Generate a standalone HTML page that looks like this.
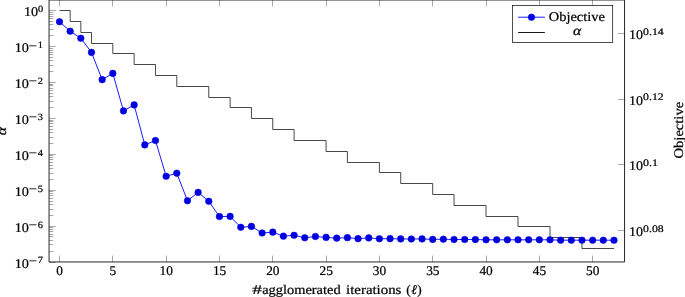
<!DOCTYPE html>
<html><head><meta charset="utf-8"><title>plot</title><style>html,body{margin:0;padding:0;background:#fff}svg{display:block}</style></head><body>
<svg width="685" height="297" viewBox="0 0 685 297" font-family='"Liberation Serif","DejaVu Serif",serif' font-size="13.33" fill="#000" text-rendering="geometricPrecision"><style>text{stroke:#000;stroke-width:0.22px}</style>
<rect width="685" height="297" fill="#fff"/>
<path d="M59.50 261.95v-6.4M59.50 0.0v6.5M112.50 261.95v-6.4M112.50 0.0v6.5M166.50 261.95v-6.4M166.50 0.0v6.5M219.50 261.95v-6.4M219.50 0.0v6.5M272.50 261.95v-6.4M272.50 0.0v6.5M326.50 261.95v-6.4M326.50 0.0v6.5M379.50 261.95v-6.4M379.50 0.0v6.5M432.50 261.95v-6.4M432.50 0.0v6.5M486.50 261.95v-6.4M486.50 0.0v6.5M539.50 261.95v-6.4M539.50 0.0v6.5M592.50 261.95v-6.4M592.50 0.0v6.5M49.05 10.50h6.7M49.05 35.50h4.3M49.05 29.50h4.3M49.05 24.50h4.3M49.05 21.50h4.3M49.05 18.50h4.3M49.05 16.50h4.3M49.05 14.50h4.3M49.05 12.50h4.3M49.05 46.50h6.7M49.05 71.50h4.3M49.05 65.50h4.3M49.05 60.50h4.3M49.05 57.50h4.3M49.05 54.50h4.3M49.05 52.50h4.3M49.05 50.50h4.3M49.05 48.50h4.3M49.05 82.50h6.7M49.05 107.50h4.3M49.05 101.50h4.3M49.05 96.50h4.3M49.05 93.50h4.3M49.05 90.50h4.3M49.05 88.50h4.3M49.05 85.50h4.3M49.05 84.50h4.3M49.05 118.50h6.7M49.05 143.50h4.3M49.05 137.50h4.3M49.05 132.50h4.3M49.05 129.50h4.3M49.05 126.50h4.3M49.05 123.50h4.3M49.05 121.50h4.3M49.05 120.50h4.3M49.05 154.50h6.7M49.05 179.50h4.3M49.05 173.50h4.3M49.05 168.50h4.3M49.05 165.50h4.3M49.05 162.50h4.3M49.05 159.50h4.3M49.05 157.50h4.3M49.05 155.50h4.3M49.05 190.50h6.7M49.05 215.50h4.3M49.05 209.50h4.3M49.05 204.50h4.3M49.05 201.50h4.3M49.05 198.50h4.3M49.05 195.50h4.3M49.05 193.50h4.3M49.05 191.50h4.3M49.05 226.50h6.7M49.05 251.50h4.3M49.05 244.50h4.3M49.05 240.50h4.3M49.05 236.50h4.3M49.05 234.50h4.3M49.05 231.50h4.3M49.05 229.50h4.3M49.05 227.50h4.3M49.05 262.50h6.7M624.55 33.50h-6.8M624.55 99.50h-6.8M624.55 164.50h-6.8M624.55 230.50h-6.8" stroke="#555" stroke-width="0.5" fill="none"/>
<path d="M59.50 10.50H70.16V21.50H80.83V32.50H91.49V43.50H112.81V53.50H134.14V64.50H155.47V75.50H176.79V86.50H208.78V97.50H230.11V107.50H251.43V118.50H272.76V129.50H294.09V140.50H326.07V151.50H347.40V162.50H379.39V172.50H400.72V183.50H432.70V194.50H454.03V205.50H486.02V216.50H518.01V226.50H550.00V237.50H581.99V248.50H613.98" stroke="#000" stroke-width="0.72" fill="none"/>
<path d="M59.50 21.70L70.16 31.25L80.83 38.25L91.49 52.40L102.15 79.66L112.81 73.38L123.48 110.90L134.14 104.90L144.80 144.90L155.47 140.50L166.13 176.30L176.79 173.20L187.46 200.70L198.12 192.40L208.78 201.30L219.44 216.50L230.11 216.40L240.77 227.30L251.43 226.40L262.10 233.00L272.76 232.15L283.42 236.17L294.09 235.30L304.75 237.80L315.41 236.50L326.07 237.40L336.74 238.15L347.40 237.65L358.06 238.66L368.73 237.90L379.39 238.80L390.05 238.66L400.72 238.90L411.38 239.00L422.04 238.90L432.70 239.40L443.37 239.20L454.03 239.50L464.69 239.50L475.36 239.60L486.02 239.80L496.68 239.80L507.35 239.80L518.01 239.80L528.67 239.80L539.34 239.80L550.00 239.80L560.66 240.20L571.32 240.20L581.99 240.20L592.65 240.20L603.31 240.20L613.98 240.20" stroke="#0000ff" stroke-width="0.9" fill="none"/>
<g fill="#0000d9" stroke="#0000ff" stroke-width="0.53">
<circle cx="59.50" cy="21.70" r="3.3"/>
<circle cx="70.16" cy="31.25" r="3.3"/>
<circle cx="80.83" cy="38.25" r="3.3"/>
<circle cx="91.49" cy="52.40" r="3.3"/>
<circle cx="102.15" cy="79.66" r="3.3"/>
<circle cx="112.81" cy="73.38" r="3.3"/>
<circle cx="123.48" cy="110.90" r="3.3"/>
<circle cx="134.14" cy="104.90" r="3.3"/>
<circle cx="144.80" cy="144.90" r="3.3"/>
<circle cx="155.47" cy="140.50" r="3.3"/>
<circle cx="166.13" cy="176.30" r="3.3"/>
<circle cx="176.79" cy="173.20" r="3.3"/>
<circle cx="187.46" cy="200.70" r="3.3"/>
<circle cx="198.12" cy="192.40" r="3.3"/>
<circle cx="208.78" cy="201.30" r="3.3"/>
<circle cx="219.44" cy="216.50" r="3.3"/>
<circle cx="230.11" cy="216.40" r="3.3"/>
<circle cx="240.77" cy="227.30" r="3.3"/>
<circle cx="251.43" cy="226.40" r="3.3"/>
<circle cx="262.10" cy="233.00" r="3.3"/>
<circle cx="272.76" cy="232.15" r="3.3"/>
<circle cx="283.42" cy="236.17" r="3.3"/>
<circle cx="294.09" cy="235.30" r="3.3"/>
<circle cx="304.75" cy="237.80" r="3.3"/>
<circle cx="315.41" cy="236.50" r="3.3"/>
<circle cx="326.07" cy="237.40" r="3.3"/>
<circle cx="336.74" cy="238.15" r="3.3"/>
<circle cx="347.40" cy="237.65" r="3.3"/>
<circle cx="358.06" cy="238.66" r="3.3"/>
<circle cx="368.73" cy="237.90" r="3.3"/>
<circle cx="379.39" cy="238.80" r="3.3"/>
<circle cx="390.05" cy="238.66" r="3.3"/>
<circle cx="400.72" cy="238.90" r="3.3"/>
<circle cx="411.38" cy="239.00" r="3.3"/>
<circle cx="422.04" cy="238.90" r="3.3"/>
<circle cx="432.70" cy="239.40" r="3.3"/>
<circle cx="443.37" cy="239.20" r="3.3"/>
<circle cx="454.03" cy="239.50" r="3.3"/>
<circle cx="464.69" cy="239.50" r="3.3"/>
<circle cx="475.36" cy="239.60" r="3.3"/>
<circle cx="486.02" cy="239.80" r="3.3"/>
<circle cx="496.68" cy="239.80" r="3.3"/>
<circle cx="507.35" cy="239.80" r="3.3"/>
<circle cx="518.01" cy="239.80" r="3.3"/>
<circle cx="528.67" cy="239.80" r="3.3"/>
<circle cx="539.34" cy="239.80" r="3.3"/>
<circle cx="550.00" cy="239.80" r="3.3"/>
<circle cx="560.66" cy="240.20" r="3.3"/>
<circle cx="571.32" cy="240.20" r="3.3"/>
<circle cx="581.99" cy="240.20" r="3.3"/>
<circle cx="592.65" cy="240.20" r="3.3"/>
<circle cx="603.31" cy="240.20" r="3.3"/>
<circle cx="613.98" cy="240.20" r="3.3"/>
</g>
<path d="M49.05 0.0H624.55V261.95H49.05Z" stroke="#000" stroke-width="0.85" fill="none"/>
<text x="24.0" y="16.25" textLength="14.2" lengthAdjust="spacingAndGlyphs">10</text>
<text x="37.9" y="12.00" font-size="9.5" textLength="5.2" lengthAdjust="spacingAndGlyphs">0</text>
<text x="14.7" y="52.17" textLength="14.2" lengthAdjust="spacingAndGlyphs">10</text>
<text x="28.8" y="48.57" font-size="9.7" textLength="8.2" lengthAdjust="spacingAndGlyphs" style="stroke-width:0.25px">−</text>
<text x="37.7" y="47.92" font-size="9.5" textLength="5.2" lengthAdjust="spacingAndGlyphs">1</text>
<text x="14.7" y="88.09" textLength="14.2" lengthAdjust="spacingAndGlyphs">10</text>
<text x="28.8" y="84.49" font-size="9.7" textLength="8.2" lengthAdjust="spacingAndGlyphs" style="stroke-width:0.25px">−</text>
<text x="37.7" y="83.84" font-size="9.5" textLength="5.2" lengthAdjust="spacingAndGlyphs">2</text>
<text x="14.7" y="124.01" textLength="14.2" lengthAdjust="spacingAndGlyphs">10</text>
<text x="28.8" y="120.41" font-size="9.7" textLength="8.2" lengthAdjust="spacingAndGlyphs" style="stroke-width:0.25px">−</text>
<text x="37.7" y="119.76" font-size="9.5" textLength="5.2" lengthAdjust="spacingAndGlyphs">3</text>
<text x="14.7" y="159.93" textLength="14.2" lengthAdjust="spacingAndGlyphs">10</text>
<text x="28.8" y="156.33" font-size="9.7" textLength="8.2" lengthAdjust="spacingAndGlyphs" style="stroke-width:0.25px">−</text>
<text x="37.7" y="155.68" font-size="9.5" textLength="5.2" lengthAdjust="spacingAndGlyphs">4</text>
<text x="14.7" y="195.85" textLength="14.2" lengthAdjust="spacingAndGlyphs">10</text>
<text x="28.8" y="192.25" font-size="9.7" textLength="8.2" lengthAdjust="spacingAndGlyphs" style="stroke-width:0.25px">−</text>
<text x="37.7" y="191.60" font-size="9.5" textLength="5.2" lengthAdjust="spacingAndGlyphs">5</text>
<text x="14.7" y="231.77" textLength="14.2" lengthAdjust="spacingAndGlyphs">10</text>
<text x="28.8" y="228.17" font-size="9.7" textLength="8.2" lengthAdjust="spacingAndGlyphs" style="stroke-width:0.25px">−</text>
<text x="37.7" y="227.52" font-size="9.5" textLength="5.2" lengthAdjust="spacingAndGlyphs">6</text>
<text x="14.7" y="267.69" textLength="14.2" lengthAdjust="spacingAndGlyphs">10</text>
<text x="28.8" y="264.09" font-size="9.7" textLength="8.2" lengthAdjust="spacingAndGlyphs" style="stroke-width:0.25px">−</text>
<text x="37.7" y="263.44" font-size="9.5" textLength="5.2" lengthAdjust="spacingAndGlyphs">7</text>
<text x="629.1" y="38.87" textLength="14.0" lengthAdjust="spacingAndGlyphs">10</text>
<text x="643.1" y="34.67" font-size="10" textLength="20.6" lengthAdjust="spacingAndGlyphs">0.14</text>
<text x="629.1" y="104.60" textLength="14.0" lengthAdjust="spacingAndGlyphs">10</text>
<text x="643.1" y="100.40" font-size="10" textLength="20.6" lengthAdjust="spacingAndGlyphs">0.12</text>
<text x="629.1" y="170.30" textLength="14.0" lengthAdjust="spacingAndGlyphs">10</text>
<text x="643.1" y="166.10" font-size="10" textLength="15.0" lengthAdjust="spacingAndGlyphs">0.1</text>
<text x="629.1" y="236.00" textLength="14.0" lengthAdjust="spacingAndGlyphs">10</text>
<text x="643.1" y="231.80" font-size="10" textLength="20.6" lengthAdjust="spacingAndGlyphs">0.08</text>
<text x="59.60" y="275.1" text-anchor="middle">0</text>
<text x="112.91" y="275.1" text-anchor="middle">5</text>
<text x="166.23" y="275.1" text-anchor="middle">10</text>
<text x="219.54" y="275.1" text-anchor="middle">15</text>
<text x="272.86" y="275.1" text-anchor="middle">20</text>
<text x="326.18" y="275.1" text-anchor="middle">25</text>
<text x="379.49" y="275.1" text-anchor="middle">30</text>
<text x="432.81" y="275.1" text-anchor="middle">35</text>
<text x="486.12" y="275.1" text-anchor="middle">40</text>
<text x="539.44" y="275.1" text-anchor="middle">45</text>
<text x="592.75" y="275.1" text-anchor="middle">50</text>
<text x="252.2" y="293.6" textLength="9.8" lengthAdjust="spacingAndGlyphs">#</text>
<text x="262.2" y="293.6" textLength="78.4" lengthAdjust="spacingAndGlyphs">agglomerated</text>
<text x="346.1" y="293.6" textLength="55.3" lengthAdjust="spacingAndGlyphs">iterations</text>
<text x="406.3" y="293.6" textLength="15.5" lengthAdjust="spacing">(<tspan font-style="italic">ℓ</tspan>)</text>
<text transform="translate(6.2 135.2) rotate(-90)" font-style="italic" font-size="13.6" textLength="8.2" lengthAdjust="spacingAndGlyphs" style="stroke-width:0.27px">α</text>
<text transform="translate(682.8 158.4) rotate(-90)" textLength="56.5" lengthAdjust="spacingAndGlyphs">Objective</text>
<rect x="512.5" y="5.4" width="100.2" height="37.2" fill="#fff" stroke="#000" stroke-width="0.7"/>
<path d="M518.1 17.2H544.9" stroke="#0000ff" stroke-width="0.9"/>
<circle cx="531.5" cy="17.2" r="3.3" fill="#0000d9" stroke="#0000ff" stroke-width="0.53"/>
<path d="M518.1 32.5H544.9" stroke="#000" stroke-width="0.9"/>
<text x="548.8" y="20.85" textLength="56" lengthAdjust="spacingAndGlyphs">Objective</text>
<text x="572.9" y="34.7" font-style="italic" font-size="13.6" textLength="8.2" lengthAdjust="spacingAndGlyphs" style="stroke-width:0.27px">α</text>
</svg>
</body></html>
